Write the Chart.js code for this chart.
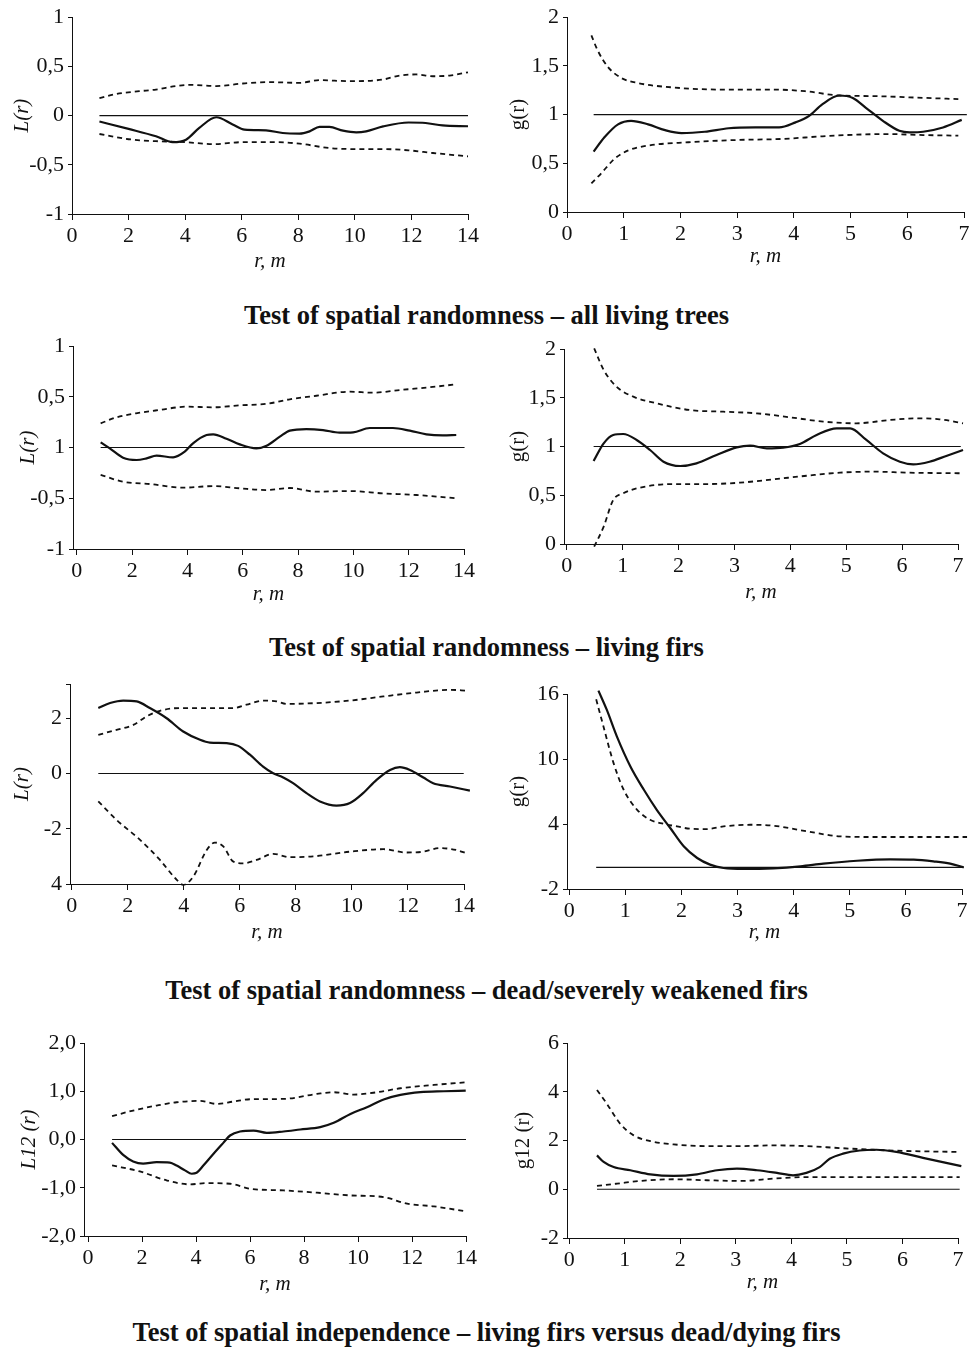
<!DOCTYPE html>
<html>
<head>
<meta charset="utf-8">
<script src="https://cdn.jsdelivr.net/npm/chart.js@4.4.0/dist/chart.umd.min.js"></script>
<style>
  html, body { margin: 0; padding: 0; background: #fff; }
  #page { position: relative; width: 973px; height: 1349px; overflow: hidden; }
  .box { position: absolute; }
  .cap {
    position: absolute; left: 0; width: 973px; text-align: center;
    font-family: "Liberation Serif", "Times New Roman", serif;
    font-weight: bold; font-size: 26.5px; color: #111; line-height: 1;
  }
</style>
</head>
<body>
<div id="page">
  <div class="box" id="b1"><canvas id="c1"></canvas></div>
  <div class="box" id="b2"><canvas id="c2"></canvas></div>
  <div class="cap" style="top:302px">Test of spatial randomness – all living trees</div>
  <div class="box" id="b3"><canvas id="c3"></canvas></div>
  <div class="box" id="b4"><canvas id="c4"></canvas></div>
  <div class="cap" style="top:634px">Test of spatial randomness – living firs</div>
  <div class="box" id="b5"><canvas id="c5"></canvas></div>
  <div class="box" id="b6"><canvas id="c6"></canvas></div>
  <div class="cap" style="top:977px">Test of spatial randomness – dead/severely weakened firs</div>
  <div class="box" id="b7"><canvas id="c7"></canvas></div>
  <div class="box" id="b8"><canvas id="c8"></canvas></div>
  <div class="cap" style="top:1319px">Test of spatial independence – living firs versus dead/dying firs</div>
</div>
<script>
// --- данные: [r, значение] ---
// ряд 1: все живые деревья
const p1Obs = [[0.97,-0.06],[2.0,-0.135],[2.97,-0.21],[3.56,-0.27],[4.03,-0.245],[4.5,-0.125],[5.1,-0.017],[5.68,-0.09],[6.1,-0.143],[6.86,-0.15],[7.45,-0.177],[8.04,-0.183],[8.4,-0.16],[8.75,-0.115],[9.1,-0.115],[9.58,-0.153],[10.05,-0.17],[10.4,-0.16],[11,-0.11],[11.9,-0.07],[12.5,-0.075],[13.1,-0.1],[14,-0.108]];
const p1Up = [[0.97,0.177],[1.56,0.22],[2.38,0.248],[2.97,0.265],[3.68,0.3],[4.15,0.312],[5.1,0.3],[6.04,0.326],[6.98,0.34],[8.04,0.333],[8.75,0.36],[9.81,0.35],[11,0.367],[11.58,0.407],[12.17,0.418],[12.76,0.4],[13.35,0.407],[14,0.44]];
const p1Lo = [[0.97,-0.187],[2.15,-0.245],[2.97,-0.26],[4.03,-0.27],[4.98,-0.29],[6.04,-0.27],[7.2,-0.27],[8.04,-0.285],[9.1,-0.33],[10.05,-0.34],[11,-0.34],[11.9,-0.353],[12.76,-0.38],[14,-0.414]];
const p1Ref = [[0.97,0],[14,0]];

const p2Obs = [[0.47,0.62],[0.66,0.767],[0.9,0.9],[1.13,0.936],[1.43,0.9],[1.73,0.84],[2.02,0.81],[2.43,0.824],[2.85,0.86],[3.32,0.868],[3.74,0.868],[4.03,0.92],[4.27,0.986],[4.5,1.105],[4.8,1.196],[5.04,1.17],[5.27,1.07],[5.57,0.936],[5.86,0.834],[6.04,0.818],[6.28,0.824],[6.63,0.868],[6.96,0.946]];
const p2Up = [[0.43,1.814],[0.54,1.66],[0.72,1.49],[0.96,1.375],[1.25,1.324],[1.84,1.28],[2.73,1.257],[3.62,1.257],[4.2,1.24],[4.8,1.196],[5.39,1.19],[6.28,1.172],[6.9,1.159]];
const p2Lo = [[0.43,0.294],[0.6,0.395],[0.84,0.547],[1.08,0.632],[1.43,0.682],[2.14,0.716],[3.03,0.74],[3.79,0.75],[4.5,0.777],[5.09,0.794],[5.68,0.8],[6.28,0.79],[6.9,0.784]];
const p2Ref = [[0.47,1],[7.05,1]];

// ряд 2: живые пихты
const p3Obs = [[0.86,0.051],[1.19,-0.008],[1.67,-0.1],[2.16,-0.123],[2.52,-0.107],[2.88,-0.08],[3.48,-0.097],[3.9,-0.041],[4.2,0.041],[4.69,0.123],[4.93,0.13],[5.41,0.087],[5.89,0.031],[6.49,-0.008],[6.86,0.018],[7.34,0.107],[7.7,0.166],[8.3,0.182],[8.9,0.172],[9.5,0.146],[9.99,0.149],[10.59,0.192],[11.43,0.192],[12.04,0.166],[12.64,0.13],[13.24,0.12],[13.72,0.123]];
const p3Up = [[0.86,0.238],[1.43,0.297],[2.28,0.343],[3.0,0.37],[3.96,0.402],[4.93,0.396],[5.89,0.415],[6.86,0.43],[7.7,0.475],[8.66,0.51],[9.87,0.55],[10.71,0.54],[11.67,0.566],[12.64,0.59],[13.72,0.622]];
const p3Lo = [[0.86,-0.27],[1.67,-0.337],[2.64,-0.36],[3.84,-0.396],[4.93,-0.38],[5.89,-0.402],[6.86,-0.419],[7.7,-0.399],[8.66,-0.435],[9.87,-0.429],[11.07,-0.452],[12.27,-0.468],[13.72,-0.5]];
const p3Ref = [[0.86,0],[14.02,0]];

const p4Obs = [[0.48,0.851],[0.66,1.032],[0.83,1.118],[1.01,1.128],[1.25,1.067],[1.49,0.964],[1.73,0.844],[2.03,0.8],[2.32,0.827],[2.68,0.913],[3.04,0.991],[3.28,1.009],[3.58,0.981],[3.87,0.988],[4.17,1.026],[4.47,1.118],[4.83,1.186],[5.07,1.186],[5.36,1.067],[5.66,0.93],[5.96,0.844],[6.2,0.817],[6.49,0.844],[6.79,0.903],[7.09,0.964]];
const p4Up = [[0.49,2.007],[0.66,1.785],[0.89,1.614],[1.19,1.511],[1.61,1.443],[2.2,1.374],[2.8,1.357],[3.4,1.34],[3.99,1.3],[4.59,1.255],[5.18,1.238],[5.78,1.272],[6.26,1.289],[6.67,1.279],[7.09,1.238]];
const p4Lo = [[0.49,-0.027],[0.66,0.178],[0.83,0.451],[1.01,0.52],[1.31,0.578],[1.91,0.615],[2.5,0.615],[3.1,0.629],[3.69,0.663],[4.29,0.7],[4.89,0.732],[5.48,0.742],[6.08,0.732],[7.09,0.725]];
const p4Ref = [[0.48,1],[7.05,1]];

// ряд 3: мёртвые / сильно ослабленные пихты
const p5Obs = [[0.95,2.37],[1.37,2.55],[1.84,2.64],[2.32,2.61],[2.79,2.37],[3.39,2.0],[3.98,1.52],[4.58,1.22],[4.93,1.12],[5.53,1.1],[5.94,1.0],[6.36,0.68],[6.83,0.25],[7.19,0.01],[7.55,-0.145],[7.9,-0.35],[8.38,-0.71],[8.86,-1.01],[9.45,-1.16],[9.93,-1.07],[10.4,-0.71],[10.88,-0.23],[11.36,0.13],[11.71,0.23],[12.07,0.13],[12.55,-0.145],[12.9,-0.35],[13.5,-0.47],[14.21,-0.62]];
const p5Up = [[0.95,1.4],[1.6,1.58],[2.2,1.76],[2.68,2.07],[3.15,2.27],[3.86,2.37],[4.58,2.37],[5.77,2.37],[6.24,2.49],[6.84,2.64],[7.31,2.61],[7.67,2.52],[8.74,2.55],[9.93,2.64],[11.12,2.79],[12.31,2.93],[13.5,3.03],[14.09,3.0]];
const p5Lo = [[0.95,-1.01],[1.6,-1.68],[2.44,-2.4],[3.15,-3.13],[3.75,-3.85],[3.98,-4.03],[4.34,-3.73],[4.82,-2.77],[5.11,-2.5],[5.41,-2.64],[5.77,-3.19],[6.12,-3.25],[6.6,-3.13],[7.19,-2.91],[7.79,-3.03],[8.62,-3.0],[9.93,-2.83],[11.12,-2.74],[11.95,-2.86],[12.55,-2.83],[13.14,-2.7],[13.73,-2.77],[14.09,-2.89]];
const p5Ref = [[0.95,0],[13.99,0]];

const p6Obs = [[0.52,16.31],[0.67,14.53],[0.85,12.07],[1.09,9.31],[1.33,7.16],[1.56,5.31],[1.8,3.63],[2.04,1.94],[2.28,0.86],[2.51,0.25],[2.75,-0.06],[3.11,-0.15],[3.64,-0.09],[4.12,0.09],[4.53,0.34],[5.13,0.61],[5.72,0.74],[6.14,0.71],[6.49,0.55],[6.79,0.34],[7.03,0.0]];
const p6Up = [[0.48,15.51],[0.61,13.0],[0.79,9.62],[0.97,7.16],[1.21,5.31],[1.44,4.39],[1.68,4.02],[1.92,3.78],[2.16,3.56],[2.45,3.53],[2.75,3.78],[3.23,3.93],[3.64,3.84],[4.24,3.32],[4.83,2.86],[5.42,2.8],[6.32,2.8],[7.09,2.8]];
const p6Ref = [[0.48,0],[7.03,0]];

// ряд 4: независимость, живые против мёртвых
const p7Obs = [[0.89,-0.07],[1.3,-0.32],[1.67,-0.455],[2.04,-0.5],[2.54,-0.47],[3.03,-0.48],[3.28,-0.54],[3.59,-0.64],[3.84,-0.71],[4.02,-0.69],[4.27,-0.54],[4.64,-0.3],[5.01,-0.07],[5.26,0.083],[5.63,0.166],[6.13,0.186],[6.62,0.138],[7.24,0.166],[7.86,0.207],[8.6,0.255],[9.1,0.345],[9.72,0.53],[10.33,0.67],[10.95,0.83],[11.57,0.924],[12.31,0.98],[13.18,1.0],[13.99,1.014]];
const p7Up = [[0.89,0.483],[1.67,0.6],[2.54,0.703],[3.28,0.772],[4.15,0.8],[4.76,0.738],[5.38,0.786],[6.0,0.834],[7.24,0.841],[8.48,0.945],[9.1,0.979],[9.84,0.931],[10.7,0.979],[11.57,1.062],[12.81,1.131],[13.99,1.186]];
const p7Lo = [[0.89,-0.538],[1.92,-0.662],[2.91,-0.848],[3.77,-0.93],[4.39,-0.903],[5.26,-0.917],[6.0,-1.021],[7.24,-1.055],[8.48,-1.103],[9.72,-1.159],[10.95,-1.193],[11.82,-1.331],[12.81,-1.386],[13.99,-1.49]];
const p7Ref = [[0.89,0],[14,0]];

const p8Obs = [[0.5,1.39],[0.62,1.12],[0.8,0.91],[1.1,0.78],[1.46,0.61],[1.88,0.545],[2.3,0.61],[2.66,0.78],[3.02,0.845],[3.38,0.78],[3.74,0.67],[4.03,0.57],[4.27,0.67],[4.51,0.91],[4.69,1.25],[4.93,1.46],[5.23,1.59],[5.53,1.62],[5.89,1.53],[6.37,1.29],[7.06,0.95]];
const p8Up = [[0.5,4.07],[0.68,3.5],[0.92,2.68],[1.16,2.21],[1.46,1.975],[1.88,1.84],[2.48,1.77],[3.08,1.77],[3.68,1.8],[4.27,1.77],[4.87,1.69],[5.47,1.62],[6.07,1.57],[7.03,1.53]];
const p8Lo = [[0.5,0.136],[0.86,0.23],[1.28,0.34],[1.88,0.41],[2.48,0.37],[3.08,0.34],[3.68,0.436],[3.97,0.477],[4.27,0.5],[5.17,0.5],[6.37,0.5],[7.03,0.5]];
const p8Ref = [[0.5,0],[7.03,0]];

// --- подписи делений ---
const xTicks14 = [0, 2, 4, 6, 8, 10, 12, 14];
const xTicks7 = [0, 1, 2, 3, 4, 5, 6, 7];
const yTicksL = [-1, -0.5, 0, 0.5, 1];
const yLabelsL1 = ['-1', '-0,5', '0', '0,5', '1'];
const yLabelsL2 = ['-1', '-0,5', '1', '0,5', '1'];   // так в оригинале
const yTicksG = [0, 0.5, 1, 1.5, 2];
const yLabelsG = ['0', '0,5', '1', '1,5', '2'];
const yTicksL3 = [-4, -2, 0, 2, 3.24];
const yLabelsL3 = ['4', '-2', '0', '2', ''];
const yTicksG3 = [-2, 4, 10, 16];
const yLabelsG3 = ['-2', '4', '10', '16'];
const yTicksL12 = [-2, -1, 0, 1, 2];
const yLabelsL12 = ['-2,0', '-1,0', '0,0', '1,0', '2,0'];
const yTicksG12 = [-2, 0, 2, 4, 6];
const yLabelsG12 = ['-2', '0', '2', '4', '6'];

Chart.defaults.font.family = '"Liberation Serif", "Times New Roman", serif';
Chart.defaults.font.size = 22;
Chart.defaults.color = '#111';

const INK = '#111';
const TICK_FONT = 22, TITLE_FONT = 21;

function pts(arr) {
    return arr.map(p => ({x: p[0], y: p[1]}));
}

function line(arr, kind) {
    const ds = {
        data: pts(arr),
        borderColor: INK,
        pointRadius: 0,
        cubicInterpolationMode: 'monotone',
        clip: false,
        borderWidth: 2.2
    };
    if (kind === 'dash') { ds.borderDash = [5, 4]; ds.borderWidth = 1.8; }
    if (kind === 'ref') { ds.borderWidth = 1.2; ds.cubicInterpolationMode = 'default'; }
    return ds;
}

// n: номер панели, box/area в координатах страницы
function panel(n, box, area, xr, yr, series, yTitle, titleX, titleY) {
    const el = document.getElementById('b' + n);
    el.style.left = box.x + 'px';
    el.style.top = box.y + 'px';
    el.style.width = box.w + 'px';
    el.style.height = box.h + 'px';

    const lh = TITLE_FONT * 1.2;
    const yWidth = area.l - box.x;
    const xHeight = box.y + box.h - area.b;

    new Chart(document.getElementById('c' + n), {
        type: 'line',
        data: { datasets: series },
        options: {
            responsive: true,
            maintainAspectRatio: false,
            animation: false,
            layout: { padding: { top: area.t - box.y, right: box.x + box.w - area.r, left: 0, bottom: 0 } },
            plugins: { legend: { display: false }, tooltip: { enabled: false } },
            scales: {
                x: {
                    type: 'linear',
                    min: xr.min, max: xr.max,
                    afterBuildTicks: s => { s.ticks = xr.ticks.map(v => ({value: v})); },
                    afterFit: s => { s.height = xHeight; },
                    ticks: { padding: 3, font: { size: TICK_FONT }, color: INK, callback: v => String(v) },
                    grid: { drawOnChartArea: false, drawTicks: true, tickLength: 6, color: INK },
                    border: { display: true, color: INK, width: 1 },
                    title: {
                        display: true, text: 'r, m', color: INK,
                        font: { size: TITLE_FONT, style: 'italic' },
                        padding: { top: 0, bottom: box.y + box.h - (titleY - 2) - lh / 2 }
                    }
                },
                y: {
                    type: 'linear',
                    min: yr.min, max: yr.max,
                    afterBuildTicks: s => { s.ticks = yr.ticks.map(v => ({value: v})); },
                    afterFit: s => { s.width = yWidth; },
                    ticks: {
                        padding: 4, font: { size: TICK_FONT }, color: INK,
                        callback: v => { const i = yr.ticks.indexOf(v); return i < 0 ? '' : yr.labels[i]; }
                    },
                    grid: { drawOnChartArea: false, drawTicks: true, tickLength: 4, color: INK },
                    border: { display: true, color: INK, width: 1 },
                    title: {
                        display: true, text: yTitle.text, color: INK,
                        font: { size: TITLE_FONT, style: yTitle.italic ? 'italic' : 'normal' },
                        padding: { top: titleX - box.x - lh / 2, bottom: 0 }
                    }
                }
            }
        }
    });
}

const L = { text: 'L(r)', italic: true };
const G = { text: 'g(r)', italic: false };

panel(1, {x: 0, y: 0, w: 490, h: 282}, {l: 72, t: 17, r: 468, b: 214},
    {min: 0, max: 14, ticks: xTicks14}, {min: -1, max: 1, ticks: yTicksL, labels: yLabelsL1},
    [line(p1Ref, 'ref'), line(p1Up, 'dash'), line(p1Lo, 'dash'), line(p1Obs)], L, 22, 263);

panel(2, {x: 490, y: 0, w: 483, h: 282}, {l: 567, t: 15, r: 964, b: 212},
    {min: 0, max: 7, ticks: xTicks7}, {min: 0, max: 2, ticks: yTicksG, labels: yLabelsG},
    [line(p2Ref, 'ref'), line(p2Up, 'dash'), line(p2Lo, 'dash'), line(p2Obs)], G, 518, 258);

panel(3, {x: 0, y: 320, w: 490, h: 296}, {l: 73, t: 346, r: 464, b: 549},
    {min: -0.14, max: 14, ticks: xTicks14}, {min: -1, max: 1, ticks: yTicksL, labels: yLabelsL2},
    [line(p3Ref, 'ref'), line(p3Up, 'dash'), line(p3Lo, 'dash'), line(p3Obs)], L, 28, 596);

panel(4, {x: 490, y: 320, w: 483, h: 296}, {l: 564, t: 349, r: 958, b: 544},
    {min: -0.05, max: 7, ticks: xTicks7}, {min: 0, max: 2, ticks: yTicksG, labels: yLabelsG},
    [line(p4Ref, 'ref'), line(p4Up, 'dash'), line(p4Lo, 'dash'), line(p4Obs)], G, 518, 594);

panel(5, {x: 0, y: 660, w: 490, h: 296}, {l: 70, t: 684, r: 464, b: 884},
    {min: -0.06, max: 14, ticks: xTicks14}, {min: -4, max: 3.24, ticks: yTicksL3, labels: yLabelsL3},
    [line(p5Ref, 'ref'), line(p5Up, 'dash'), line(p5Lo, 'dash'), line(p5Obs)], L, 22, 934);

panel(6, {x: 490, y: 660, w: 483, h: 296}, {l: 567, t: 694, r: 962, b: 889},
    {min: -0.04, max: 7, ticks: xTicks7}, {min: -2, max: 16, ticks: yTicksG3, labels: yLabelsG3},
    [line(p6Ref, 'ref'), line(p6Up, 'dash'), line(p6Obs)], G, 518, 934);

panel(7, {x: 0, y: 1010, w: 490, h: 298}, {l: 84, t: 1043, r: 466, b: 1236},
    {min: -0.15, max: 14, ticks: xTicks14}, {min: -2, max: 2, ticks: yTicksL12, labels: yLabelsL12},
    [line(p7Ref, 'ref'), line(p7Up, 'dash'), line(p7Lo, 'dash'), line(p7Obs)], { text: 'L12 (r)', italic: true }, 29, 1286);

panel(8, {x: 490, y: 1010, w: 483, h: 298}, {l: 567, t: 1043, r: 958, b: 1238},
    {min: -0.04, max: 7, ticks: xTicks7}, {min: -2, max: 6, ticks: yTicksG12, labels: yLabelsG12},
    [line(p8Ref, 'ref'), line(p8Up, 'dash'), line(p8Lo, 'dash'), line(p8Obs)], { text: 'g12 (r)', italic: false }, 523, 1284);
</script>
</body>
</html>
